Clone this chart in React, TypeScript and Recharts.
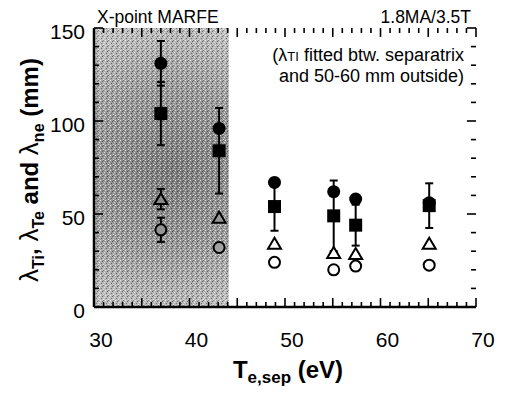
import React from "react";
import {
  ComposedChart,
  Scatter,
  XAxis,
  YAxis,
  ErrorBar,
  ReferenceArea,
  ReferenceLine,
} from "recharts";

// ---- data ----
const teSep = [37.0, 43.1, 48.9, 55.1, 57.4, 65.1];
const lambdaTe = [131, 96, 67, 62, 58, 56];
const lambdaTeErr = [12, 0, 0, 0, 0, 0];
const lambdaTi = [104, 84, 54, 49, 44, 54.5];
const lambdaTiErr = [17, 23, 13, 19, 11, 12];
const lambdaNe = [58, 48, 34, 29, 28.5, 34];
const lambdaNeErr = [5.5, 0, 0, 0, 0, 0];
const lambdaTeSol = [41.5, 32, 24, 20, 22, 22.5];
const lambdaTeSolErr = [6.5, 0, 0, 0, 0, 0];

const xMinorTicks = Array.from({ length: 41 }, (_, i) => 30 + i);
const xMajorTicks = [30, 35, 40, 45, 50, 55, 60, 65, 70];
const xLabelTicks = [30, 40, 50, 60, 70];
const yMinorTicks = Array.from({ length: 16 }, (_, i) => i * 10);
const yMajorTicks = [0, 50, 100, 150];
const yLabelTicks = [0, 50, 100, 150];
const marfeRange = [30, 44.1];

const X_DOMAIN: [number, number] = [30, 70];
const Y_DOMAIN: [number, number] = [0, 150];
// tick-mark lengths expressed in axis units (≈5px / ≈9px)
const X_TICK_MINOR = 2.7;
const X_TICK_MAJOR = 4.8;
const Y_TICK_MINOR = 0.53;
const Y_TICK_MAJOR = 0.95;

const FONT = "'Liberation Sans', Arial, Helvetica, sans-serif";

const build = (ys: number[], errs: number[]) =>
  teSep.map((x, i) => ({ x, y: ys[i], err: errs[i] }));
const onlyErr = (ys: number[], errs: number[]) =>
  build(ys, errs).filter((d) => d.err > 0);

const teData = build(lambdaTe, lambdaTeErr);
const tiData = build(lambdaTi, lambdaTiErr);
const neData = build(lambdaNe, lambdaNeErr);
const solData = build(lambdaTeSol, lambdaTeSolErr);
const teErrData = onlyErr(lambdaTe, lambdaTeErr);
const neErrData = onlyErr(lambdaNe, lambdaNeErr);
const solErrData = onlyErr(lambdaTeSol, lambdaTeSolErr);

const hollowFill = (x: number) =>
  x < marfeRange[1] ? "url(#shadeGrad)" : "#ffffff";

const FilledCircle = (p: any) =>
  p.cx == null ? null : <circle cx={p.cx} cy={p.cy} r={6.5} fill="#000" />;
const FilledSquare = (p: any) =>
  p.cx == null ? null : (
    <rect x={p.cx - 6.5} y={p.cy - 6.5} width={13} height={13} fill="#000" />
  );
const OpenTriangle = (p: any) =>
  p.cx == null ? null : (
    <polygon
      points={`${p.cx},${p.cy - 6} ${p.cx - 6.5},${p.cy + 5} ${p.cx + 6.5},${p.cy + 5}`}
      fill={hollowFill(p.payload.x)}
      stroke="#000"
      strokeWidth={2}
      strokeLinejoin="miter"
    />
  );
const OpenCircle = (p: any) =>
  p.cx == null ? null : (
    <circle
      cx={p.cx}
      cy={p.cy}
      r={5.5}
      fill={hollowFill(p.payload.x)}
      stroke="#000"
      strokeWidth={2}
    />
  );
const NoShape = () => null;

const BottomLabel = (p: any) => {
  const v = p.payload.value;
  if (!xLabelTicks.includes(v)) return <g />;
  return (
    <text x={p.x + 7} y={p.y + 40} textAnchor="middle" fontSize={21} fontFamily={FONT} fill="#000">
      {v}
    </text>
  );
};
const LeftLabel = (p: any) => {
  const v = p.payload.value;
  if (!yLabelTicks.includes(v)) return <g />;
  return (
    <text x={p.x - 9} y={p.y + 11} textAnchor="end" fontSize={21} fontFamily={FONT} fill="#000">
      {v}
    </text>
  );
};

const axisLine = { stroke: "#000", strokeWidth: 2.5 };

const Lam = ({ x, y, sub, rest }: { x: number; y: number; sub: string; rest?: string }) => (
  <text x={x} y={y} fontFamily={FONT} fontSize={20} fill="#000">
    λ
    <tspan fontSize={16.5}>{sub}</tspan>
    {rest ? <tspan fontSize={18.5}>{rest}</tspan> : null}
  </text>
);

const tickStyle = { stroke: "#000", strokeWidth: 1.6 };

// tick marks drawn through the chart's own scales as short reference segments
const xTickMarks = xMinorTicks.flatMap((v) => {
  const len = xMajorTicks.includes(v) ? X_TICK_MAJOR : X_TICK_MINOR;
  return [
    <ReferenceLine key={`xb${v}`} segment={[{ x: v, y: Y_DOMAIN[0] }, { x: v, y: Y_DOMAIN[0] + len }]} {...tickStyle} />,
    <ReferenceLine key={`xt${v}`} segment={[{ x: v, y: Y_DOMAIN[1] }, { x: v, y: Y_DOMAIN[1] - len }]} {...tickStyle} />,
  ];
});
const yTickMarks = yMinorTicks.flatMap((v) => {
  const len = yMajorTicks.includes(v) ? Y_TICK_MAJOR : Y_TICK_MINOR;
  return [
    <ReferenceLine key={`yl${v}`} segment={[{ x: X_DOMAIN[0], y: v }, { x: X_DOMAIN[0] + len, y: v }]} {...tickStyle} />,
    <ReferenceLine key={`yr${v}`} segment={[{ x: X_DOMAIN[1], y: v }, { x: X_DOMAIN[1] - len, y: v }]} {...tickStyle} />,
  ];
});

export default function App() {
  return (
    <div style={{ position: "absolute", left: 0, top: 0, background: "#fff" }}>
      <ComposedChart
        width={505}
        height={394}
        margin={{ top: 28, right: 29, bottom: 0, left: 0 }}
      >
        <defs>
          <radialGradient id="shadeGrad" gradientUnits="userSpaceOnUse" cx={170} cy={170} r={150}>
            <stop offset="0" stopColor="#7c7c7c" />
            <stop offset="0.55" stopColor="#9c9c9c" />
            <stop offset="1" stopColor="#c2c2c2" />
          </radialGradient>
          <pattern id="grain" patternUnits="userSpaceOnUse" width={5} height={5}>
            <rect x={0} y={0} width={1} height={1} fill="#ffffff" opacity={0.7} />
            <rect x={2} y={1} width={1} height={1} fill="#000000" opacity={0.45} />
            <rect x={4} y={2} width={1} height={1} fill="#ffffff" opacity={0.6} />
            <rect x={1} y={3} width={1} height={1} fill="#000000" opacity={0.4} />
            <rect x={3} y={4} width={1} height={1} fill="#ffffff" opacity={0.6} />
            <rect x={3} y={0} width={1} height={1} fill="#000000" opacity={0.3} />
          </pattern>
        </defs>

        <XAxis type="number" dataKey="x" domain={X_DOMAIN} ticks={xMinorTicks} interval={0} height={87}
          tickSize={0} tickMargin={0} tickLine={false} axisLine={axisLine} tick={BottomLabel} allowDataOverflow />
        <XAxis xAxisId="top" orientation="top" type="number" dataKey="x" domain={X_DOMAIN} height={0}
          tickLine={false} axisLine={axisLine} tick={false} allowDataOverflow />
        <YAxis type="number" dataKey="y" domain={Y_DOMAIN} ticks={yMinorTicks} interval={0} width={94}
          tickSize={0} tickMargin={0} tickLine={false} axisLine={axisLine} tick={LeftLabel} allowDataOverflow />
        <YAxis yAxisId="right" orientation="right" type="number" dataKey="y" domain={Y_DOMAIN} width={0}
          tickLine={false} axisLine={axisLine} tick={false} allowDataOverflow />

        <ReferenceArea x1={marfeRange[0]} x2={marfeRange[1]} y1={Y_DOMAIN[0]} y2={Y_DOMAIN[1]} fill="url(#shadeGrad)" fillOpacity={1} stroke="none" />
        <ReferenceArea x1={marfeRange[0]} x2={marfeRange[1]} y1={Y_DOMAIN[0]} y2={Y_DOMAIN[1]} fill="url(#grain)" fillOpacity={1} stroke="none" />

        {xTickMarks}
        {yTickMarks}

        <Scatter data={teErrData} shape={NoShape} isAnimationActive={false}>
          <ErrorBar dataKey="err" direction="y" width={4} stroke="#000" strokeWidth={2} />
        </Scatter>
        <Scatter data={tiData} shape={FilledSquare} isAnimationActive={false}>
          <ErrorBar dataKey="err" direction="y" width={4} stroke="#000" strokeWidth={2} />
        </Scatter>
        <Scatter data={teData} shape={FilledCircle} isAnimationActive={false} />
        <Scatter data={neErrData} shape={NoShape} isAnimationActive={false}>
          <ErrorBar dataKey="err" direction="y" width={4} stroke="#000" strokeWidth={2} />
        </Scatter>
        <Scatter data={neData} shape={OpenTriangle} isAnimationActive={false} />
        <Scatter data={solErrData} shape={NoShape} isAnimationActive={false}>
          <ErrorBar dataKey="err" direction="y" width={4} stroke="#000" strokeWidth={2} />
        </Scatter>
        <Scatter data={solData} shape={OpenCircle} isAnimationActive={false} />

        {/* annotations */}
        <text x={97} y={23} fontFamily={FONT} fontSize={17.5} fill="#000">X-point MARFE</text>
        <text x={471} y={23} textAnchor="end" fontFamily={FONT} fontSize={17.5} fill="#000">1.8MA/3.5T</text>
        <text x={464} y={61} textAnchor="end" fontFamily={FONT} fontSize={18} fill="#000">
          (λ<tspan fontSize={13}>TI</tspan> fitted btw. separatrix
        </text>
        <text x={464} y={82} textAnchor="end" fontFamily={FONT} fontSize={18} fill="#000">
          and 50-60 mm outside)
        </text>
        <Lam x={103} y={73} sub="Te" />
        <Lam x={112} y={121} sub="Ti" />
        <Lam x={112} y={205} sub="ne" />
        <Lam x={103} y={270} sub="Te" rest=" (first SOL)" />

        {/* axis titles */}
        <text x={288} y={378} textAnchor="middle" fontFamily={FONT} fontWeight="bold" fontSize={24} fill="#000">
          T<tspan fontSize={17} dy={5}>e,sep</tspan>
          <tspan dy={-5}> (eV)</tspan>
        </text>
        <text
          transform="translate(38,170) rotate(-90)"
          textAnchor="middle"
          fontFamily={FONT}
          fontWeight="bold"
          fontSize={24}
          fill="#000"
        >
          <tspan fontWeight="normal" fontSize={26}>λ</tspan>
          <tspan fontSize={16} dy={6}>Ti</tspan>
          <tspan dy={-6}>, </tspan>
          <tspan fontWeight="normal" fontSize={26}>λ</tspan>
          <tspan fontSize={16} dy={6}>Te</tspan>
          <tspan dy={-6}> and </tspan>
          <tspan fontWeight="normal" fontSize={26}>λ</tspan>
          <tspan fontSize={16} dy={6}>ne</tspan>
          <tspan dy={-6}> (mm)</tspan>
        </text>
      </ComposedChart>
    </div>
  );
}
